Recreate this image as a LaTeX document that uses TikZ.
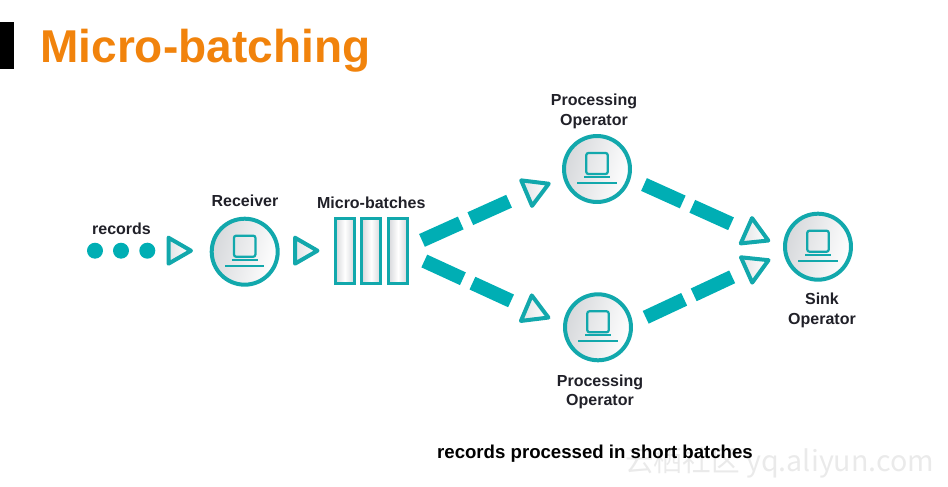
\documentclass[tikz,border=0pt]{standalone}
\usepackage{fontspec}
\setmainfont{Liberation Sans}
\newfontfamily\cjkfont{Noto Sans CJK SC}
\usepackage{xcolor}
\usetikzlibrary{shapes.geometric,positioning,calc,arrows.meta}
\definecolor{tealline}{RGB}{18,168,172}
\definecolor{tealbar}{RGB}{0,174,180}
\definecolor{titleorange}{RGB}{241,131,12}
\definecolor{labeldark}{RGB}{32,32,40}
\definecolor{fillgray}{RGB}{214,216,219}
\definecolor{markgray}{RGB}{234,234,234}

\tikzset{
  opcircle/.style={circle, draw=tealline, line width=0.08cm, minimum size=1.32cm, inner sep=0pt,
    left color=fillgray, right color=white, shading angle=75},
  headtri/.style={regular polygon, regular polygon sides=3, draw=tealline, line width=0.08cm,
    line join=round, minimum size=0.64cm, inner sep=0pt, left color=fillgray!70, right color=white},
  batchbox/.style={rectangle, draw=tealline, line width=0.06cm, minimum width=0.37cm, minimum height=1.30cm,
    inner sep=0pt, left color=fillgray, right color=fillgray, middle color=white},
  recdot/.style={circle, fill=tealbar, minimum size=0.32cm, inner sep=0pt},
  flowbar/.style={draw=tealbar, line width=0.28cm, dash pattern=on 0.85cm off 0.21cm on 0.85cm off 4cm},
  lbl/.style={font=\fontsize{9.1}{11.2}\selectfont\bfseries, text=labeldark, align=center, inner sep=0pt},
  laptop/.pic={
    \draw[tealline, line width=0.045cm, rounded corners=1.2pt] (-10.7,-16) rectangle (10.7,5);
    \draw[tealline, line width=0.04cm] (-13,7.8) -- (13,7.8);
    \draw[tealline, line width=0.04cm] (-19.7,14) -- (19.7,14);
  }
}

\begin{document}
\begin{tikzpicture}[x=0.02cm,y=-0.02cm]
\useasboundingbox (0,0) rectangle (948,487);

% Heading with the black tab
\fill[black] (0,21.7) rectangle (14,69.3);
\node[font=\fontsize{26.2}{30}\selectfont\bfseries, text=titleorange, inner sep=0pt, anchor=base west] (title) at (40,62) {Micro-batching};

% Incoming records
\foreach \name/\x in {dota/95, dotb/121, dotc/147.3} {
    \node[recdot] (\name) at (\x,250.7) {};
}
\node[lbl] (records) at (121.5,229) {records};

% Operators with their screens
\foreach \name/\x/\y in {recv/244.7/251.7, procup/597/169, proclow/598/327.3, sink/818/246.7} {
    \node[opcircle] (\name) at (\x,\y) {};
    \pic at (\name) {laptop};
}
\node[lbl] (recvlabel) at (245,201) {Receiver};
\node[lbl] (procuplabel) at (594,111.5) {Processing\\Operator};
\node[lbl] (proclowlabel) at (600,392) {Processing\\Operator};
\node[lbl] (sinklabel) at (822,310.5) {Sink\\Operator};

% The three batches
\foreach \name/\x in {batcha/344.8, batchb/371.2, batchc/398} {
    \node[batchbox] (\name) at (\x,251.2) {};
}
\node[lbl] (batchlabel) at (371.3,203) {Micro-batches};

% Small arrow heads
\node[headtri, minimum size=0.60cm, shape border rotate=-90] (tinrec) at (176,250.7) {};
\node[headtri, minimum size=0.60cm, shape border rotate=-90] (tinbatch) at (302.5,250.7) {};
\node[headtri, shape border rotate=-67] (tprocup) at (534,190) {};
\node[headtri, shape border rotate=-113] (tproclow) at (533.7,311.3) {};
\node[headtri, shape border rotate=-114] (tsinkup) at (753.7,234) {};
\node[headtri, shape border rotate=-66] (tsinklow) at (753.9,266.7) {};

% Thick dashed flows
\coordinate (outup) at (422,240.4);
\coordinate (outlow) at (424.3,261);
\coordinate (outprocup) at (644,184.5);
\coordinate (outproclow) at (645.7,317.3);
\draw[flowbar] (outup) -- (tprocup);
\draw[flowbar] (outlow) -- (tproclow);
\draw[flowbar] (outprocup) -- (tsinkup);
\draw[flowbar] (outproclow) -- (tsinklow);

% Bottom line and site mark
\node[font={\fontsize{16.3}{18}\selectfont\cjkfont}, text=markgray, inner sep=0pt, anchor=west] (mark) at (625,463)
    {云栖社区 yq.aliyun.com};
\node[font=\fontsize{10.6}{12}\selectfont\bfseries, text=black, inner sep=0pt] (caption) at (595,454)
    {records processed in short batches};
\end{tikzpicture}
\end{document}
